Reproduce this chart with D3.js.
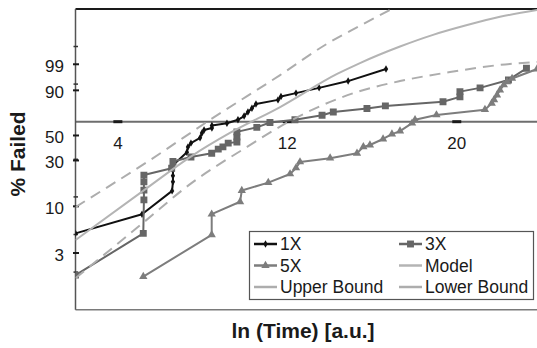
<!DOCTYPE html>
<html>
<head>
<meta charset="utf-8">
<script src="https://cdn.jsdelivr.net/npm/d3@7"></script>
<style>
  body { margin: 0; background: #fff; }
  svg { display: block; }
  text { font-family: "Liberation Sans", Arial, sans-serif; }
</style>
</head>
<body>
<svg id="chart" width="537" height="348"></svg>
<script>
// Each point: [ln(time) in a.u., Weibull variate ln(-ln(1 - F))]
const series1X = [
  [2.00, -2.97], [5.14, -2.46], [6.56, -1.84], [6.60, -1.60], [6.60, -1.44],
  [6.60, -1.29], [6.65, -1.13], [7.26, -0.81], [7.31, -0.67], [7.45, -0.57],
  [7.88, -0.43], [7.97, -0.30], [8.07, -0.22], [8.44, -0.17], [8.44, -0.10],
  [9.15, -0.04], [9.67, 0.05], [9.96, 0.15], [10.14, 0.26], [10.33, 0.36],
  [10.52, 0.47], [11.56, 0.58], [11.70, 0.67], [12.41, 0.76], [13.50, 0.90],
  [14.87, 1.08], [16.66, 1.40]
];
const series3X = [
  [2.00, -4.08], [5.20, -2.97], [5.23, -2.08], [5.23, -1.82], [5.23, -1.60],
  [5.23, -1.42], [6.54, -1.24], [6.60, -1.06], [7.45, -0.94], [8.43, -0.84],
  [8.74, -0.73], [8.96, -0.67], [9.21, -0.57], [9.62, -0.54], [9.62, -0.41],
  [9.62, -0.27], [10.56, -0.15], [11.18, -0.02], [12.36, 0.05], [13.64, 0.17],
  [14.17, 0.26], [15.76, 0.35], [16.63, 0.42], [19.35, 0.53], [20.15, 0.66],
  [20.15, 0.80], [21.10, 0.90], [22.44, 1.11], [23.29, 1.42]
];
const series5X = [
  [5.20, -4.12], [8.43, -3.01], [8.43, -2.46], [9.77, -2.13], [9.85, -1.83],
  [11.10, -1.62], [12.13, -1.39], [12.41, -1.23], [12.60, -1.07], [14.02, -0.97],
  [15.29, -0.84], [15.59, -0.67], [15.90, -0.62], [16.52, -0.46], [16.94, -0.33],
  [17.32, -0.25], [17.89, -0.04], [18.03, 0.05], [19.04, 0.18], [21.33, 0.32],
  [21.65, 0.49], [21.76, 0.58], [21.90, 0.71], [22.04, 0.84], [22.22, 0.98],
  [22.37, 1.06], [22.61, 1.15], [23.79, 1.40]
];
const modelCurve = [
  [2.00, -3.15], [5.19, -1.84], [7.41, -0.94], [9.29, -0.30], [11.66, 0.39],
  [14.35, 1.27], [15.43, 1.56], [17.32, 2.00], [18.88, 2.31], [20.49, 2.57],
  [22.04, 2.79], [23.79, 2.97]
];
const upperBound = [
  [2.00, -2.27], [5.52, -1.02], [8.49, 0.10], [11.66, 1.24], [13.87, 2.07],
  [15.43, 2.55], [16.94, 3.00]
];
const lowerBound = [
  [2.00, -4.16], [5.19, -2.69], [7.41, -1.66], [10.10, -0.67], [12.13, 0.02],
  [15.29, 0.79], [17.32, 1.08], [19.68, 1.32], [22.04, 1.51], [23.79, 1.59]
];

const percentTicks = [3, 10, 30, 50, 90, 99];
const weibullMinorTicks = [-4, -3, -2, -1, 1, 2];
const timeTicks = [4, 12, 20];
const legendLabels = ["1X", "3X", "5X", "Model", "Upper Bound", "Lower Bound"];

const weibull = p => Math.log(-Math.log(1 - p / 100));

const svg = d3.select("#chart");
const x = d3.scaleLinear().domain([2, 24]).range([75.5, 541.5]);
const y = d3.scaleLinear().domain([-5, 3]).range([309.7, 8.9]);

svg.append("defs").append("clipPath").attr("id", "plot-clip")
  .append("rect")
  .attr("x", x(2)).attr("y", y(3))
  .attr("width", x(24) - x(2)).attr("height", y(-5) - y(3));

// Plot frame
svg.append("line").attr("x1", x(2)).attr("x2", x(24)).attr("y1", y(3)).attr("y2", y(3))
  .attr("stroke", "#1a1a1a").attr("stroke-width", 2);
svg.append("line").attr("x1", x(2)).attr("x2", x(24)).attr("y1", y(-5)).attr("y2", y(-5))
  .attr("stroke", "#7a7a7a").attr("stroke-width", 1.5);

// Horizontal axis crossing at the 63.2 % level
svg.append("line").attr("x1", x(2)).attr("x2", x(24)).attr("y1", y(0)).attr("y2", y(0))
  .attr("stroke", "#6e6e6e").attr("stroke-width", 2);
svg.selectAll(".xtick").data(timeTicks).join("rect")
  .attr("x", d => x(d) - 4.5).attr("y", y(0) - 1.5)
  .attr("width", 9).attr("height", 3).attr("fill", "#1a1a1a");
svg.selectAll(".xlabel").data(timeTicks).join("text")
  .attr("x", d => x(d)).attr("y", y(0) + 27)
  .attr("text-anchor", "middle").attr("font-size", 17).attr("fill", "#1a1a1a")
  .text(d => d);

// Vertical axis
svg.append("line").attr("x1", x(2)).attr("x2", x(2)).attr("y1", y(3)).attr("y2", y(-5))
  .attr("stroke", "#555").attr("stroke-width", 1.5);
svg.selectAll(".ytick-minor").data(weibullMinorTicks).join("line")
  .attr("x1", x(2) - 2).attr("x2", x(2) + 2.5)
  .attr("y1", d => y(d)).attr("y2", d => y(d))
  .attr("stroke", "#333").attr("stroke-width", 1.5);
svg.selectAll(".ytick").data(percentTicks).join("line")
  .attr("x1", x(2) - 2.5).attr("x2", x(2) + 3.5)
  .attr("y1", d => y(weibull(d))).attr("y2", d => y(weibull(d)))
  .attr("stroke", "#1a1a1a").attr("stroke-width", 2);
svg.selectAll(".ylabel").data(percentTicks).join("text")
  .attr("x", 64).attr("y", d => y(weibull(d)) + 8)
  .attr("text-anchor", "end").attr("font-size", 17).attr("fill", "#1a1a1a")
  .text(d => d);

// Axis titles
svg.append("text").attr("transform", "translate(25,154) rotate(-90)")
  .attr("text-anchor", "middle").attr("font-size", 21).attr("font-weight", "bold")
  .attr("fill", "#1a1a1a").text("% Failed");
svg.append("text").attr("x", 303).attr("y", 338)
  .attr("text-anchor", "middle").attr("font-size", 21).attr("font-weight", "bold")
  .attr("fill", "#1a1a1a").text("ln (Time) [a.u.]");

// Series
const plot = svg.append("g").attr("clip-path", "url(#plot-clip)");
const straight = d3.line().x(d => x(d[0])).y(d => y(d[1]));
const smooth = d3.line().x(d => x(d[0])).y(d => y(d[1])).curve(d3.curveMonotoneX);

const styles = [
  { data: series1X, color: "#111", width: 2, symbol: d3.symbolDiamond, size: 16, line: straight },
  { data: series3X, color: "#666", width: 2, symbol: d3.symbolSquare, size: 48, line: straight },
  { data: series5X, color: "#7d7d7d", width: 2, symbol: d3.symbolTriangle, size: 30, line: straight },
  { data: modelCurve, color: "#b4b4b4", width: 2, line: smooth },
  { data: upperBound, color: "#adadad", width: 2, dash: "11,7", line: smooth },
  { data: lowerBound, color: "#adadad", width: 2, dash: "11,7", line: smooth }
];

styles.forEach(s => {
  plot.append("path").datum(s.data)
    .attr("d", s.line)
    .attr("fill", "none").attr("stroke", s.color).attr("stroke-width", s.width)
    .attr("stroke-dasharray", s.dash || null)
    .attr("stroke-linejoin", "round");
  if (s.symbol) {
    plot.selectAll(null).data(s.data).join("path")
      .attr("transform", d => `translate(${x(d[0])},${y(d[1])})`)
      .attr("d", d3.symbol(s.symbol, s.size))
      .attr("fill", s.color);
  }
});

// Legend
const legend = svg.append("g");
legend.append("rect").attr("x", 249.5).attr("y", 231.5).attr("width", 284).attr("height", 68)
  .attr("fill", "#fff").attr("stroke", "#555").attr("stroke-width", 1.2);
const rowY = [244, 265.5, 287];
const colX = [254, 399];
styles.forEach((s, i) => {
  const cx = colX[i % 2], cy = rowY[Math.floor(i / 2)];
  legend.append("line").attr("x1", cx).attr("x2", cx + 23).attr("y1", cy).attr("y2", cy)
    .attr("stroke", s.color).attr("stroke-width", 2.5);
  if (s.symbol) {
    legend.append("path").attr("transform", `translate(${cx + 11.5},${cy})`)
      .attr("d", d3.symbol(s.symbol, s.size)).attr("fill", s.color);
  }
  legend.append("text").attr("x", cx + 26).attr("y", cy + 6)
    .attr("font-size", 17.5).attr("fill", "#1a1a1a").text(legendLabels[i]);
});
</script>
</body>
</html>
